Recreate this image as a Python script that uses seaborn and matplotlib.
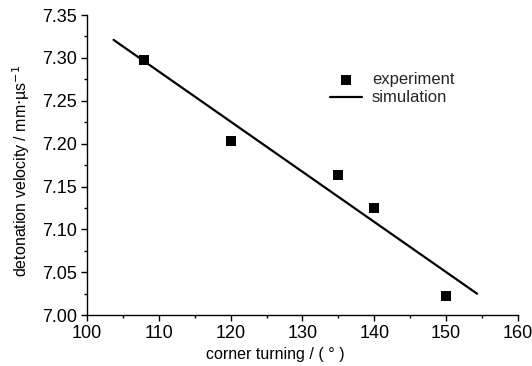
import seaborn as sns
import matplotlib.pyplot as plt
import pandas as pd
from matplotlib.ticker import MultipleLocator

# experimental points
exp_angle = [108, 120, 135, 140, 150]
exp_velocity = [7.297, 7.203, 7.163, 7.125, 7.022]

# simulation line
sim_angle = [103.7, 154.3]
sim_velocity = [7.321, 7.025]

sns.set_theme(style="ticks")
plt.rcParams['font.family'] = ['Liberation Sans Narrow', 'Liberation Sans', 'DejaVu Sans']

exp_df = pd.DataFrame({'angle': exp_angle, 'velocity': exp_velocity})
sim_df = pd.DataFrame({'angle': sim_angle, 'velocity': sim_velocity})

fig, ax = plt.subplots(figsize=(5.32, 3.66), dpi=100)
fig.subplots_adjust(left=0.1635, right=0.9737, top=0.959, bottom=0.139)

sns.scatterplot(data=exp_df, x='angle', y='velocity', marker='s', s=50,
                color='black', edgecolor='black', linewidth=0, ax=ax,
                label='experiment', zorder=3)
sns.lineplot(data=sim_df, x='angle', y='velocity', color='black',
             linewidth=1.6, ax=ax, label='simulation')

ax.set_xlim(100, 160)
ax.set_ylim(7.00, 7.35)
ax.xaxis.set_major_locator(MultipleLocator(10))
ax.xaxis.set_minor_locator(MultipleLocator(5))
ax.yaxis.set_major_locator(MultipleLocator(0.05))
ax.yaxis.set_minor_locator(MultipleLocator(0.025))
ax.yaxis.set_major_formatter(plt.FormatStrFormatter('%.2f'))

ax.tick_params(which='major', direction='out', length=4, width=1, labelsize=13,
               color='black', labelcolor='black', pad=3)
ax.tick_params(which='minor', direction='out', length=2.5, width=1, color='black')

sns.despine(ax=ax)
for sp in ['left', 'bottom']:
    ax.spines[sp].set_color('black')
    ax.spines[sp].set_linewidth(1)

ax.set_xlabel('corner turning / ( ° )', fontsize=11.5, color='black')
ax.set_ylabel('detonation velocity / mm$\\cdot$µs$^{-1}$', fontsize=11.5,
              color='black')
ax.xaxis.set_label_coords(0.438, -0.105)
ax.yaxis.set_label_coords(-0.128, 0.48)

ax.legend(loc='upper left', bbox_to_anchor=(0.53, 0.86), frameon=False,
          fontsize=12, handlelength=1.9, handletextpad=0.6, labelspacing=0.2)

fig.savefig('out.png', dpi=100)
